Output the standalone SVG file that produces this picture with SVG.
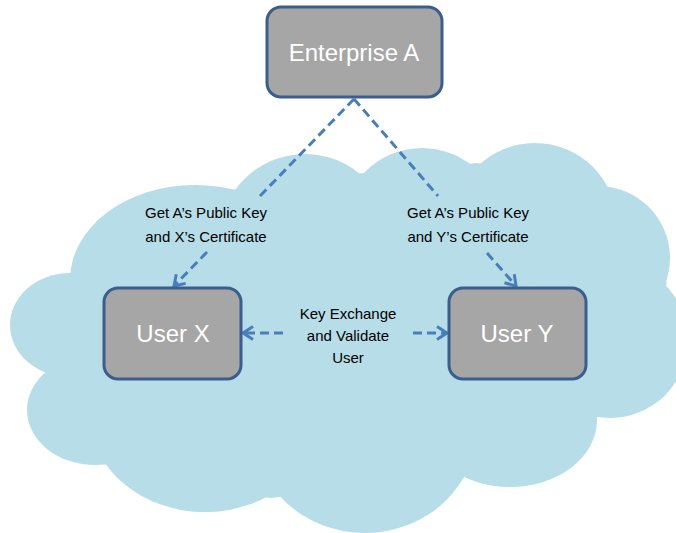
<svg xmlns="http://www.w3.org/2000/svg" width="676" height="533" viewBox="0 0 676 533">
  <style>
    .cloud { fill: #b7dde8; stroke: none; }
    .box { fill: #a6a6a6; stroke: #3b5e8c; stroke-width: 3; }
    .boxtext { font-family: "Liberation Sans", Arial, sans-serif; font-size: 24px; fill: #ffffff; text-anchor: middle; }
    .label { font-family: "Liberation Sans", Arial, sans-serif; font-size: 15px; fill: #000000; text-anchor: middle; }
    .conn { fill: none; stroke: #4a7ebb; stroke-width: 3; stroke-dasharray: 9 5; }
  </style>
  <defs>
    <marker id="chev" markerUnits="userSpaceOnUse" markerWidth="20" markerHeight="20" refX="12" refY="8" orient="auto">
      <path d="M2,1.5 L12,8 L2,14.5" fill="none" stroke="#4a7ebb" stroke-width="3" stroke-dasharray="none"/>
    </marker>
  </defs>

  <g id="cloud">
    <polygon class="cloud" points="73,272 230,190 363,173 477,163 610,193 667,283 597,417 459,477 270,498 103,464 45,373"/>
    <ellipse class="cloud" cx="195" cy="280" rx="125" ry="95"/>
    <circle class="cloud" cx="305" cy="240" r="86"/>
    <circle class="cloud" cx="422" cy="228" r="80"/>
    <circle class="cloud" cx="535" cy="225" r="82"/>
    <circle class="cloud" cx="598" cy="258" r="72"/>
    <circle class="cloud" cx="610" cy="340" r="78"/>
    <ellipse class="cloud" cx="510" cy="420" rx="87" ry="67"/>
    <ellipse class="cloud" cx="365" cy="428" rx="112" ry="105"/>
    <ellipse class="cloud" cx="205" cy="415" rx="115" ry="97"/>
    <ellipse class="cloud" cx="95" cy="410" rx="68" ry="55"/>
    <ellipse class="cloud" cx="70" cy="325" rx="60" ry="52"/>
  </g>

  <g id="connectors">
    <path class="conn" d="M354,99 L260,196"/>
    <path class="conn" d="M207,252 L174,286" marker-end="url(#chev)"/>
    <path class="conn" d="M354,99 L438,196"/>
    <path class="conn" d="M487,253 L516,286" marker-end="url(#chev)"/>
    <path class="conn" d="M283,333 L243,333" marker-end="url(#chev)"/>
    <path class="conn" d="M413,333 L447,333" marker-end="url(#chev)"/>
  </g>

  <g id="enterprise-a">
    <rect class="box" x="267" y="7" width="175" height="90" rx="14" ry="14"/>
    <text class="boxtext" x="354" y="61">Enterprise A</text>
  </g>
  <g id="user-x">
    <rect class="box" x="104" y="288" width="137" height="91" rx="14" ry="14"/>
    <text class="boxtext" x="173" y="342">User X</text>
  </g>
  <g id="user-y">
    <rect class="box" x="449" y="288" width="137" height="91" rx="14" ry="14"/>
    <text class="boxtext" x="517" y="342">User Y</text>
  </g>

  <g id="labels">
    <text class="label" x="206" y="218">Get A&#8217;s Public Key</text>
    <text class="label" x="206" y="242">and X&#8217;s Certificate</text>
    <text class="label" x="468" y="218">Get A&#8217;s Public Key</text>
    <text class="label" x="468" y="242">and Y&#8217;s Certificate</text>
    <text class="label" x="348" y="319">Key Exchange</text>
    <text class="label" x="348" y="341">and Validate</text>
    <text class="label" x="348" y="363">User</text>
  </g>
</svg>
